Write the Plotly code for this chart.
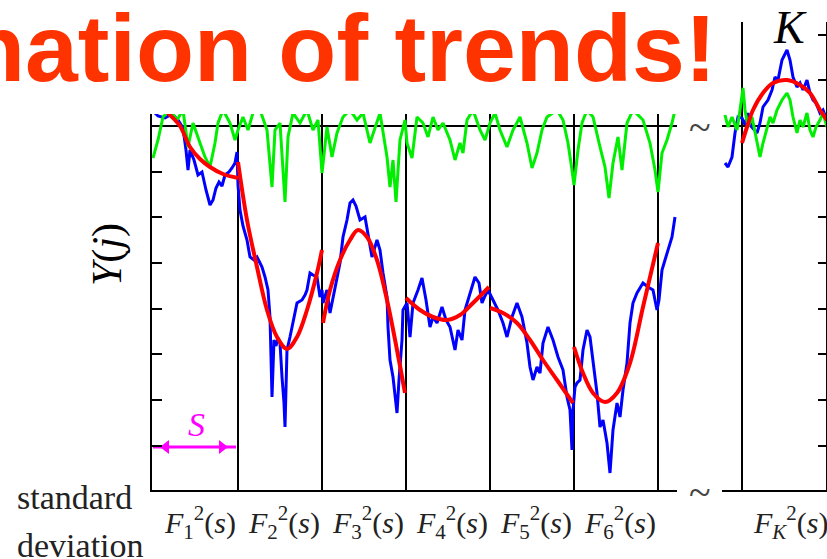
import plotly.graph_objects as go

# ---------------- data ----------------
SEG = 84                                   # segment length s (samples)
BOUNDS = [84, 168, 252, 336, 420, 504]     # segment boundaries
Y_TICKS = [-320, -274, -228, -183, -137, -91, -46]
K_TICKS = [-320, -274, -228, -183, -137, -91, -46, 46, 91]
LABELS = ["1", "2", "3", "4", "5", "6"]

# profile Y(j) (blue)
blue_j = [-2, 4, 11, 18, 24, 29, 32, 34, 36, 40, 44, 48, 52, 56, 59, 62, 65, 68, 71, 75, 78, 81, 83,
          84, 86, 89, 93, 96, 100, 103, 106, 108, 111, 114, 116, 118, 120, 122, 124, 126, 128, 130, 131,
          133, 136, 139, 143, 148, 151, 153, 156, 159, 163, 166, 168,
          169, 173, 176, 179, 183, 186, 189, 193, 196, 199, 202, 206, 211, 214, 218, 223, 226, 229, 233,
          234, 236, 239, 243, 245, 248, 249, 253,
          256, 259, 264, 268, 272, 276, 279, 283, 288, 292, 296, 301, 304, 308, 311, 316, 321, 325, 328,
          331, 334,
          339, 344, 349, 353, 358, 363, 368, 373, 376, 379, 383, 386, 389, 394, 399, 404, 409, 413, 416,
          418, 419, 421,
          423, 426, 429, 433, 436, 439, 443, 446, 449, 453, 456, 459, 463, 466, 469, 473, 476, 479, 483,
          489, 494, 499, 503, 505, 508, 511, 514, 518, 521]
blue_y = [16, 10, 8, 12, 6, -2, -24, -44, -24, -34, -49, -46, -64, -79, -74, -62, -56, -60, -49, -46, -42, -37, -26,
          -59, -84, -100, -114, -131, -134, -131, -137, -141, -151, -164, -191, -271, -214, -220, -212, -217,
          -251, -277, -301, -224, -211, -197, -177, -174, -169, -164, -147, -149, -151, -171, -164,
          -177, -164, -187, -171, -151, -137, -111, -94, -77, -74, -80, -94, -91, -108, -131, -114, -124, -147,
          -171, -201, -234, -251, -287, -254, -214, -184, -177,
          -211, -177, -164, -152, -174, -201, -191, -197, -181, -194, -201, -224, -204, -214, -184, -167, -151,
          -157, -177, -170, -164,
          -174, -184, -197, -211, -191, -177, -191, -217, -241, -254, -241, -247, -217, -201, -214, -231, -244,
          -271, -284, -324, -284, -261,
          -257, -254, -224, -204, -211, -237, -267, -301, -294, -317, -347, -304, -277, -291, -264, -237, -197,
          -177, -167, -157, -161, -164, -184, -174, -144, -134, -124, -111, -91]

# fluctuation (green)
green_j = [-1, 4, 9, 16, 23, 29, 34, 39, 46, 51, 56, 61, 64, 69, 76, 81, 84, 89, 94, 99, 106, 113, 118, 121, 126,
           131, 134, 139, 146, 153, 159, 164, 168, 173, 178, 183, 189, 196, 203, 209, 216, 221, 226, 233, 236,
           239, 242, 246, 251, 253, 258, 263, 269, 274, 279, 284, 289, 296, 301, 306, 309, 313, 319, 326, 331,
           336, 341, 346, 353, 359, 366, 373, 378, 383, 388, 393, 403, 409, 414, 418, 420, 424, 428, 433, 439,
           446, 451, 455, 459, 464, 468, 473, 479, 489, 496, 501, 504, 508, 513, 518, 521]
green_y = [-32, -14, 9, 16, 6, 16, -21, 3, -17, -31, -41, -17, 3, 16, 3, -14, -4, 9, -4, 13, 16, -4, -61, -4, 3,
           -76, -11, 13, 3, 16, -4, 6, -47, -1, -31, -7, 9, 16, 6, 13, -17, -1, 13, -31, -61,
           -34, -76, -14, 6, -17, -32, 9, 3, -11, 9, -4, 3, -14, -34, -17, -27, 6, 16, -4, -14,
           3, 13, -4, -21, -4, 9, -17, -42, -27, -4, 9, 16, 6, -17, -44, -59, -24, 3, 16, 9,
           -21, -41, -72, -37, -11, -44, 3, 16, 6, -17, -44, -66, -27, -14, 3, 16]

# local polynomial trends (red), one list per segment
fit_j = [[-2, 6, 16, 26, 36, 46, 56, 69, 84],
         [84, 93, 103, 113, 123, 133, 143, 153, 163, 168],
         [169, 176, 186, 196, 204, 213, 223, 233, 243, 251],
         [252, 266, 279, 293, 306, 319, 335],
         [336, 349, 363, 376, 389, 403, 419],
         [420, 429, 439, 451, 463, 476, 489, 504]]
fit_y = [[30, 20, 11, 0, -21, -33, -41, -48, -52],
         [-36, -94, -141, -184, -211, -223, -211, -184, -147, -124],
         [-197, -164, -134, -114, -104, -111, -134, -174, -224, -267],
         [-172, -184, -191, -194, -189, -177, -161],
         [-182, -187, -197, -214, -234, -254, -277],
         [-221, -247, -267, -276, -267, -237, -181, -117]]

# last segment K
kblue_j = [-17, -14, -10, -7, -4, 0, 3, 6, 9, 15, 18, 21, 26, 30, 33, 36, 40, 43, 45, 48, 51, 55, 58, 61, 65,
           68, 71, 74, 78, 81, 85]
kblue_y = [-37, -41, -31, -7, 9, 8, 1, 13, 0, -7, 3, 19, 26, 36, 49, 46, 66, 73, 76, 66, 49, 39, 43, 36, 46,
           33, 26, 23, 13, 16, 6]
kgreen_j = [-17, -14, -10, -5, -2, 1, 3, 6, 10, 15, 18, 21, 25, 28, 31, 35, 40, 45, 48, 51, 55, 58, 61, 65,
            68, 71, 74, 78, 81, 85]
kgreen_y = [11, -1, 9, -4, 16, 38, 16, -1, 9, -14, -31, -17, -1, 9, 3, 16, 26, 33, 26, 9, -7, 6, -1, 13,
            -4, -11, -1, 6, 13, -1]
kfit_j = [0, 5, 11, 21, 31, 45, 58, 68, 78, 85]
kfit_y = [-17, -1, 16, 33, 43, 46, 41, 33, 16, 6]

# ---------------- figure ----------------
W, H = 827, 559
BLUE, GREEN, RED, MAG = "#0000FF", "#00EE00", "#FF0000", "#FF00FF"
SERIF = "Liberation Serif, Times New Roman, serif"

fig = go.Figure()

fig.add_trace(go.Scatter(x=blue_j, y=blue_y, mode="lines", line=dict(color=BLUE, width=3)))
fig.add_trace(go.Scatter(x=green_j, y=green_y, mode="lines", line=dict(color=GREEN, width=3)))
for a, b in zip(fit_j, fit_y):
    fig.add_trace(go.Scatter(x=a, y=b, mode="lines",
                             line=dict(color=RED, width=4, shape="spline", smoothing=1.0)))

# segment-size arrow
fig.add_trace(go.Scatter(x=[-1, SEG - 2], y=[Y_TICKS[0] - 1] * 2, mode="lines",
                         line=dict(color=MAG, width=3)))
fig.add_trace(go.Scatter(x=[12, SEG - 16], y=[Y_TICKS[0] - 1] * 2, mode="markers",
                         marker=dict(color=MAG, size=12, symbol=["triangle-left", "triangle-right"])))

fig.add_trace(go.Scatter(x=kblue_j, y=kblue_y, mode="lines", line=dict(color=BLUE, width=3),
                         xaxis="x2", yaxis="y2"))
fig.add_trace(go.Scatter(x=kgreen_j, y=kgreen_y, mode="lines", line=dict(color=GREEN, width=3),
                         xaxis="x2", yaxis="y2"))
fig.add_trace(go.Scatter(x=kfit_j, y=kfit_y, mode="lines",
                         line=dict(color=RED, width=4, shape="spline", smoothing=1.0),
                         xaxis="x2", yaxis="y2"))

axcommon = dict(showticklabels=False, linecolor="black", linewidth=2, tickcolor="black",
                zerolinecolor="black", zerolinewidth=2)

fig.update_layout(
    width=W, height=H, margin=dict(l=0, r=0, t=0, b=0),
    paper_bgcolor="white", plot_bgcolor="rgba(0,0,0,0)", showlegend=False,
    xaxis=dict(domain=[152 / W, 677 / W], range=[-2, 523], showline=True,
               showgrid=True, gridcolor="black", gridwidth=2, tickvals=BOUNDS, ticks="",
               zeroline=False, **axcommon),
    yaxis=dict(domain=[1 - 490 / H, 1 - 114 / H], range=[-364, 12], showline=True,
               showgrid=False, tickvals=Y_TICKS, ticks="inside", ticklen=10, tickwidth=2,
               zeroline=True, **axcommon),
    xaxis2=dict(domain=[722 / W, 826 / W], range=[-20, 84], anchor="y2", showline=True,
                showgrid=False, ticks="", zeroline=True, **axcommon),
    yaxis2=dict(domain=[1 - 490 / H, 1 - 22 / H], range=[-364, 104], anchor="x2", side="right",
                showline=True, showgrid=False, tickvals=K_TICKS, ticks="inside", ticklen=8,
                tickwidth=2, zeroline=True, **axcommon),
)


def px(x):
    return x / W


def py(y):
    return 1 - y / H


ann = []
ann.append(dict(text="nation of trends!", x=px(-35), y=py(48), xanchor="left", yanchor="middle",
                font=dict(family="Liberation Sans, Arial", size=95, color="#FF3300", weight="bold")))
ann.append(dict(text="<i>K</i>", x=px(790), y=py(28), xanchor="center", yanchor="middle",
                font=dict(family=SERIF, size=46, color="black")))
ann.append(dict(text="<i>Y</i>(<i>j</i>)", x=px(107), y=py(255), textangle=-90,
                xanchor="center", yanchor="middle", font=dict(family=SERIF, size=42, color="black")))
ann.append(dict(text="<i>S</i>", x=px(196), y=py(424), xanchor="center", yanchor="middle",
                font=dict(family=SERIF, size=34, color=MAG)))
for t in (126, 490):
    ann.append(dict(text="~", x=px(700), y=py(t + 2), xanchor="center", yanchor="middle",
                    font=dict(family=SERIF, size=40, color="#444444")))
for k, lab in enumerate(LABELS):
    ann.append(dict(text=f"<i>F</i><sub>{lab}</sub><sup>2</sup>(<i>s</i>)", xref="x", x=k * SEG + SEG / 2 + 4,
                    yref="paper", y=py(522), xanchor="center", yanchor="middle",
                    font=dict(family=SERIF, size=30, color="#222222")))
ann.append(dict(text="<i>F</i><sub><i>K</i></sub><sup>2</sup>(<i>s</i>)", xref="x2", x=49,
                yref="paper", y=py(522), xanchor="center", yanchor="middle",
                font=dict(family=SERIF, size=30, color="#222222")))
ann.append(dict(text="standard", x=px(15), y=py(497), xanchor="left", yanchor="middle",
                font=dict(family=SERIF, size=34, color="#222222")))
ann.append(dict(text="deviation", x=px(15), y=py(545), xanchor="left", yanchor="middle",
                font=dict(family=SERIF, size=34, color="#222222")))

for a in ann:
    a.setdefault("xref", "paper")
    a.setdefault("yref", "paper")
    a["showarrow"] = False
fig.update_layout(annotations=ann)

fig.write_html("out.html")
